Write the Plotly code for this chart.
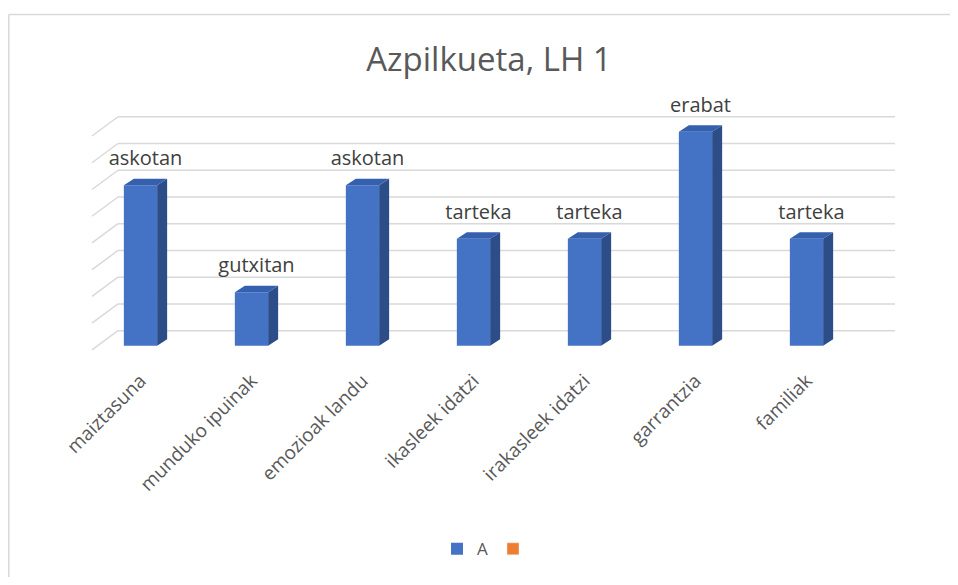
import plotly.graph_objects as go

# ---------------- data ----------------
categories = ["maiztasuna", "munduko ipuinak", "emozioak landu", "ikasleek idatzi",
              "irakasleek idatzi", "garrantzia", "familiak"]
values = [6, 2, 6, 4, 4, 8, 4]
value_labels = ["askotan", "gutxitan", "askotan", "tarteka", "tarteka", "erabat", "tarteka"]
series_name = "A"
series2_name = " "
title_text = "Azpilkueta, LH 1"
grid_levels = list(range(0, 9))

# ---------------- geometry / style ----------------
OFF = 8                 # page body margin
W, H = 958 - 2 * OFF, 585 - 2 * OFF
PLOT_W = 777
ML = 85 - OFF
MR = W - ML - PLOT_W
Y0_PX = 352.4 - OFF     # figure pixel of y=-0.2 (bottom of plot area)
Y_RANGE = [-0.2, 9]
MT = 105 - OFF
PLOT_H = Y0_PX - MT
MB = H - Y0_PX

FRONT = "#4472C4"
SIDE = "#2C4D87"
TOP = "#3460AE"
ORANGE = "#ED7D31"
GRID = "#D9D9D9"

BAR_W = 0.30
DX = 0.09       # depth offset (category units)
DY = 0.24       # depth offset (value units)
WALL_DY = 0.56  # back wall offset for gridlines (value units)
LABEL_DY = 0.32


def px_x(px):   # screenshot px -> paper
    return (px - OFF - ML) / PLOT_W


def px_y(px):
    return (Y0_PX - (px - OFF)) / PLOT_H


xs = list(range(len(categories)))

fig = go.Figure()

# front faces
fig.add_trace(go.Bar(x=xs, y=values, width=BAR_W, marker=dict(color=FRONT, line=dict(width=0)),
                     name=series_name, showlegend=True, hoverinfo="skip", base=0))
# empty second series (legend only)
fig.add_trace(go.Bar(x=[None], y=[None], marker=dict(color=ORANGE), name=series2_name, showlegend=True))

# side and top faces
sx, sy = [], []
tx, ty = [], []
for i, v in zip(xs, values):
    r = i + BAR_W / 2
    l = i - BAR_W / 2
    sx += [r, r + DX, r + DX, r, r, None]
    sy += [0, DY, v + DY, v, 0, None]
    tx += [l, r, r + DX, l + DX, l, None]
    ty += [v, v, v + DY, v + DY, v, None]
fig.add_trace(go.Scatter(x=sx, y=sy, fill="toself", fillcolor=SIDE, mode="lines",
                         line=dict(width=0, color=SIDE), showlegend=False, hoverinfo="skip"))
fig.add_trace(go.Scatter(x=tx, y=ty, fill="toself", fillcolor=TOP, mode="lines",
                         line=dict(width=0, color=TOP), showlegend=False, hoverinfo="skip"))

# value labels
fig.add_trace(go.Scatter(x=[i + DX / 2 for i in xs], y=[v + DY + LABEL_DY for v in values], mode="text",
                         text=value_labels, textposition="top center",
                         textfont=dict(family="Open Sans", size=20, color="#404040"),
                         showlegend=False, hoverinfo="skip", cliponaxis=False))

shapes = []
# back wall gridlines + slanted side wall lines
gx0 = px_x(118)
gx1 = px_x(895)
sx0 = px_x(92)
for g in grid_levels:
    shapes.append(dict(type="line", xref="paper", yref="y", x0=gx0, x1=gx1,
                       y0=g + WALL_DY, y1=g + WALL_DY, line=dict(color=GRID, width=1.5), layer="below"))
    shapes.append(dict(type="line", xref="paper", yref="y", x0=sx0, x1=gx0,
                       y0=g + WALL_DY - 0.72, y1=g + WALL_DY, line=dict(color=GRID, width=1.5), layer="below"))
# chart border (top and left edges visible)
shapes.append(dict(type="line", xref="paper", yref="paper", x0=px_x(OFF + 0.8), x1=px_x(W + 40),
                   y0=px_y(14), y1=px_y(14), line=dict(color="#D9D9D9", width=1.5), layer="below"))
shapes.append(dict(type="line", xref="paper", yref="paper", x0=px_x(OFF + 0.8), x1=px_x(OFF + 0.8),
                   y0=px_y(14), y1=px_y(H + 40), line=dict(color="#D9D9D9", width=1.5), layer="below"))

fig.update_layout(
    width=W, height=H,
    margin=dict(l=ML, r=MR, t=MT, b=MB),
    paper_bgcolor="white", plot_bgcolor="rgba(0,0,0,0)",
    title=dict(text=title_text, x=(489 - OFF) / W, xanchor="center", y=1 - (59 - OFF) / H, yanchor="middle",
               font=dict(family="Open Sans", size=33, color="#595959")),
    xaxis=dict(range=[-0.5, len(categories) - 0.5], tickmode="array", tickvals=xs, ticktext=categories,
               tickangle=-45, showgrid=False, zeroline=False, showline=False, ticks="",
               ticklabelstandoff=14,
               tickfont=dict(family="Open Sans", size=19, color="#595959"), fixedrange=True),
    yaxis=dict(range=Y_RANGE, showgrid=False, zeroline=False, showticklabels=False, showline=False,
               fixedrange=True),
    shapes=shapes,
    showlegend=True,
    legend=dict(orientation="h", x=px_x(490), xanchor="center", y=px_y(550), yanchor="middle",
                font=dict(family="Open Sans", size=17, color="#595959"), itemwidth=30,
                bgcolor="rgba(0,0,0,0)"),
    bargap=0.7,
)

fig.write_html("out.html")
